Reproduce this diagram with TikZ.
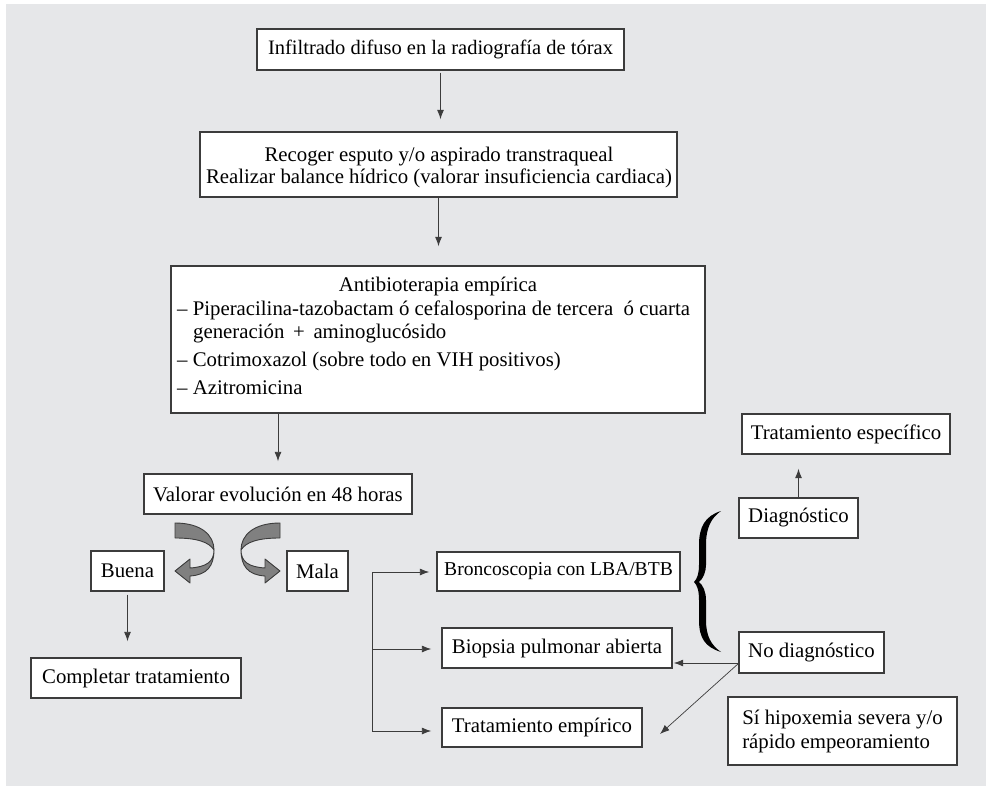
\documentclass[tikz,border=0pt]{standalone}
\usepackage{fontspec}
\setmainfont{Liberation Serif}
\usetikzlibrary{arrows.meta,calc}
\definecolor{panel}{HTML}{E6E7E9}
\definecolor{edge}{HTML}{3C3C3C}
\definecolor{ribbon}{HTML}{808080}
\newcommand\fs{\fontsize{20.8}{24}\selectfont}
\begin{document}
\begin{tikzpicture}[x=1pt,y=-1pt,
  box/.style={draw=edge, fill=white, line width=1.4pt, inner sep=0pt, font=\fs},
  txt/.style={inner sep=0pt, font=\fs, text height=14.5pt, text depth=4.5pt},
  arr/.style={-{Latex[length=9.5pt,width=7pt]}, line width=0.9pt, draw=edge},
  ln/.style={line width=0.9pt, draw=edge},
  rib/.style={fill=ribbon, draw=edge, line width=0.9pt, line join=round}]
\useasboundingbox (0,0) rectangle (986,786);
\fill[panel] (6,4) rectangle (986,786);

% boxes
\node[box, minimum width=367pt, minimum height=41pt, font=\fontsize{20.5}{24}\selectfont] (b1) at (440.5,49.5) {Infiltrado difuso en la radiografía de tórax};
\node[box, minimum width=477pt, minimum height=65pt] (b2) at (438.5,164.5) {};
\node[txt] (b2a) at (439,157) {Recoger esputo y/o aspirado transtraqueal};
\node[txt] (b2b) at (439,179) {Realizar balance hídrico (valorar insuficiencia cardiaca)};
\node[box, minimum width=534pt, minimum height=147pt] (b3) at (438,339.5) {};
\node[txt] (b3t) at (438,287) {Antibioterapia empírica};
\node[txt, anchor=west] (b3a) at (177,311) {– Piperacilina-tazobactam ó cefalosporina de tercera \ ó cuarta};
\node[txt, anchor=west] (b3b) at (193,334) {generación \,+\, aminoglucósido};
\node[txt, anchor=west] (b3c) at (177,362) {– Cotrimoxazol (sobre todo en VIH positivos)};
\node[txt, anchor=west] (b3d) at (177,390) {– Azitromicina};

\node[box, minimum width=268pt, minimum height=40pt] (val) at (278,494) {Valorar evolución en 48 horas};
\node[box, minimum width=73pt, minimum height=40pt] (buena) at (127.5,571) {Buena};
\node[box, minimum width=61pt, minimum height=40pt] (mala) at (317.5,571) {Mala};
\node[box, minimum width=210pt, minimum height=40pt] (comp) at (136,678) {Completar tratamiento};

\node[box, minimum width=243pt, minimum height=39pt, font=\fontsize{19.6}{24}\selectfont] (bron) at (558.5,571.5) {Broncoscopia con LBA/BTB};
\node[box, minimum width=230pt, minimum height=40pt] (biop) at (557,648) {Biopsia pulmonar abierta};
\node[box, minimum width=200pt, minimum height=39pt] (temp) at (542,727.5) {Tratamiento empírico};

\node[box, minimum width=208pt, minimum height=40pt] (tesp) at (846,434) {Tratamiento específico};
\node[box, minimum width=119pt, minimum height=40pt] (diag) at (798.5,518) {Diagnóstico};
\node[box, minimum width=145pt, minimum height=41pt] (nodiag) at (811.5,652.5) {No diagnóstico};
\node[box, minimum width=229pt, minimum height=68pt, align=left, font=\fontsize{20.8}{24}\selectfont] (hip) at (842.5,731)
  {Sí hipoxemia severa y/o\\rápido empeoramiento};

% vertical arrows
\draw[arr, shorten <=2pt, shorten >=12pt] (b1.south) -- (b1.south |- b2.north);
\draw[arr, shorten >=19pt] (b2.south) -- (b2.south |- b3.north);
\draw[arr, shorten >=12pt] (b3.south -| val.north) -- (val.north);
\draw[arr, shorten <=3pt, shorten >=16pt] (buena.south) -- (buena.south |- comp.north);
\draw[arr, shorten >=14pt] (diag.north) -- (diag.north |- tesp.south);

% curved arrows
\path[rib] (175,523) .. controls (201,523) and (214,535) .. (214,550)
   .. controls (209,542) and (197,538) .. (175,538) -- cycle;
\path[rib] (214,550) .. controls (214,562) and (206,567) .. (190,568) -- (190,559) -- (175,571)
   -- (190,583) -- (190,576) .. controls (207,575) and (214,566) .. (214,550) -- cycle;
\begin{scope}[xshift=455pt, xscale=-1]
\path[rib] (175,523) .. controls (201,523) and (214,535) .. (214,550)
   .. controls (209,542) and (197,538) .. (175,538) -- cycle;
\path[rib] (214,550) .. controls (214,562) and (206,567) .. (190,568) -- (190,559) -- (175,571)
   -- (190,583) -- (190,576) .. controls (207,575) and (214,566) .. (214,550) -- cycle;
\end{scope}

% branch
\coordinate (vt) at (372,572);
\coordinate (vm) at (372,649);
\coordinate (vb) at (372,731);
\draw[ln] (vt) -- (vb);
\draw[arr, shorten >=7pt] (vt) -- (vt -| bron.west);
\draw[arr, shorten >=10pt] (vm) -- (vm -| biop.west);
\draw[arr, shorten >=10pt] (vb) -- (vb -| temp.west);

% no diagnostico arrows
\coordinate (nd) at (739,663);
\coordinate (dt) at (660,734);
\draw[arr, shorten >=1pt] (nd) -- (nd -| biop.east);
\draw[arr, line width=0.7pt] (nd) -- (dt);

% brace
\fill[black] (721,511) .. controls (705,516) and (699,527) .. (699,545) -- (699,565)
  .. controls (699,574) and (697,579) .. (694,582) .. controls (697,585) and (699,590) .. (699,600)
  -- (699,620) .. controls (699,638) and (705,647) .. (721,652)
  .. controls (711,645) and (706,636) .. (706,620) -- (706,600)
  .. controls (706,592) and (703,585) .. (699,582) .. controls (703,579) and (706,572) .. (706,565)
  -- (706,545) .. controls (706,528) and (711,518) .. (721,511) -- cycle;
\end{tikzpicture}
\end{document}
